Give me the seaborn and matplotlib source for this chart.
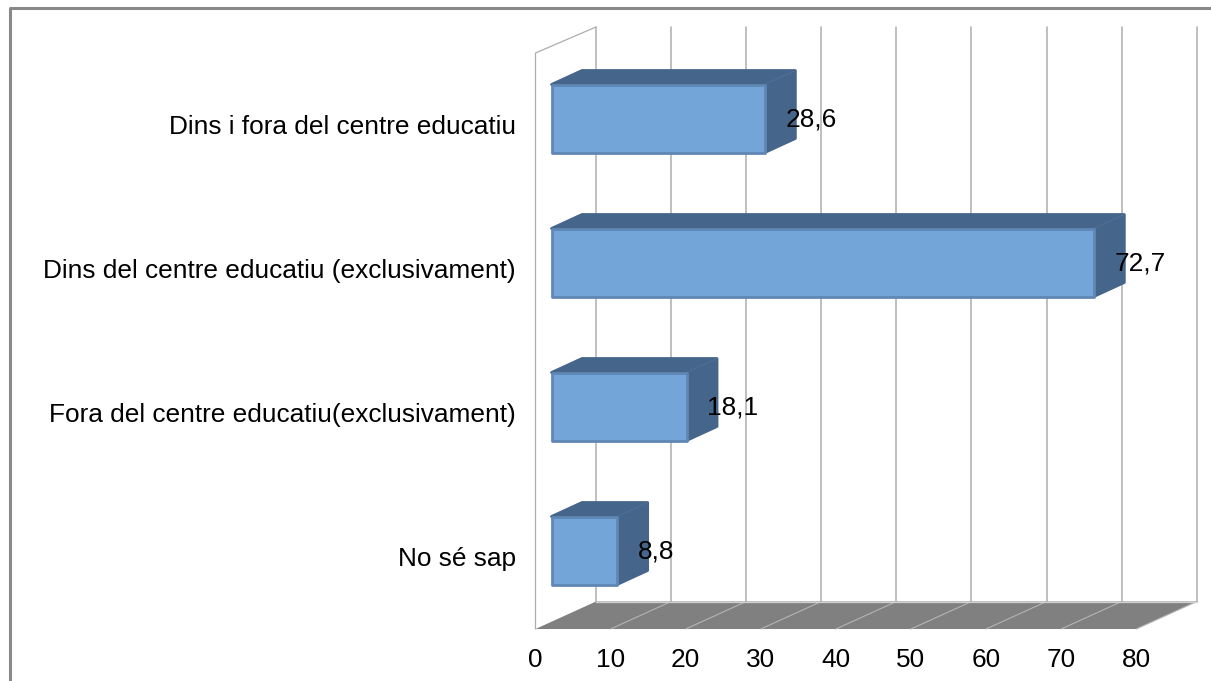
import pandas as pd
import seaborn as sns
from matplotlib import pyplot as plt
from matplotlib.lines import Line2D
from matplotlib.patches import Polygon
from matplotlib.transforms import ScaledTranslation

categories = ['Dins i fora del centre educatiu', 'Dins del centre educatiu (exclusivament)',
              'Fora del centre educatiu(exclusivament)', 'No sé sap']
values = [28.6, 72.7, 18.1, 8.8]
value_labels = ['28,6', '72,7', '18,1', '8,8']
axis_ticks = [0, 10, 20, 30, 40, 50, 60, 70, 80]

W, H = 1211, 681
PX_X = 7.46   # pixels per unit on x
PX_Y = 144.0  # pixels per category

sns.set_theme(style='white')
plt.rcParams['font.family'] = ['Liberation Sans', 'DejaVu Sans']

df = pd.DataFrame({'cat': categories, 'val': values})

fig = plt.figure(figsize=(W / 100, H / 100), dpi=100)
ax = fig.add_axes([535.5 / W, (H - 629) / H, (1197 - 535.5) / W, (629 - 27) / H])

sns.barplot(data=df, y='cat', x='val', orient='h', color='#74A5D9', saturation=1,
            width=68 / PX_Y, edgecolor='#5F87B5', linewidth=2.0, zorder=5, ax=ax)

ax.set_xlim(-16 / PX_X, (1197 - 551.5) / PX_X)
ax.set_ylim((629 - 118.5) / PX_Y, (27 - 118.5) / PX_Y)

# offsets in data units
wall_dx = 60.5 / PX_X   # front axis -> back wall
wall_dy = 27.5 / PX_Y
bar_dx = 30.5 / PX_X    # depth of the bars
bar_dy = 14.0 / PX_Y
x0 = -16 / PX_X         # front axis zero, the bars start a bit behind it
tick_step = 75.1 / PX_X / 10
y_floor, y_top = ax.get_ylim()
y_back = y_floor - wall_dy

# floor and back wall
grid_c = '#ADADAD'
floor = [(x0, y_floor), (x0 + 80 * tick_step, y_floor),
         (x0 + 80 * tick_step + wall_dx, y_back), (x0 + wall_dx, y_back)]
ax.add_patch(Polygon(floor, closed=True, fc='#808080', ec='none', zorder=1, clip_on=False))
for t in axis_ticks:
    xb = x0 + t * tick_step + wall_dx
    ax.plot([xb, xb], [y_top, y_back], color=grid_c, lw=1.1, zorder=2, clip_on=False)
    if t > 0:
        ax.plot([xb - wall_dx, xb], [y_floor, y_back], color='#B4B4B4', lw=0.8, zorder=2, clip_on=False)
ax.plot([x0 + wall_dx, x0 + 80 * tick_step + wall_dx], [y_back, y_back], color='#D0D0D0', lw=0.9, zorder=2, clip_on=False)

# left wall
ax.plot([x0, x0, x0 + wall_dx], [y_floor, y_top + wall_dy - 1.5 / PX_Y, y_top], color=grid_c, lw=0.9,
        zorder=2, clip_on=False)

# top and side of the bars
side_c = '#46658A'
for bar in list(ax.patches):
    if bar.get_zorder() != 5:
        continue
    bar.set_joinstyle('round')
    xe = bar.get_x() + bar.get_width()
    yt = bar.get_y()
    yb = yt + bar.get_height()
    xs = bar.get_x()
    shape = [(xs, yt), (xs + bar_dx, yt - bar_dy), (xe + bar_dx, yt - bar_dy),
             (xe + bar_dx, yb - bar_dy), (xe, yb)]
    ax.add_patch(Polygon(shape, closed=True, fc=side_c, ec=side_c, lw=2.0, joinstyle='round', zorder=4))
    ax.plot([xe, xe + bar_dx], [yt, yt - bar_dy], color='#4E6F97', lw=0.8, zorder=4.5)

# value labels
for i, (v, lab) in enumerate(zip(values, value_labels)):
    ax.text(v + 20.5 / PX_X, i + 1.5 / PX_Y, lab, ha='left', va='center', fontsize=18.9, color='black',
            zorder=6, clip_on=False)

# axis text
ax.set_xticks([x0 + t * tick_step for t in axis_ticks])
ax.set_xticklabels([str(t) for t in axis_ticks], fontsize=18.9, color='black')
ax.tick_params(axis='x', length=0, pad=14)
ax.set_yticks(range(len(categories)))
ax.set_yticklabels(categories, fontsize=18.9, color='black')
ax.tick_params(axis='y', length=0, pad=14)
shift = ScaledTranslation(0, -6 / 100, fig.dpi_scale_trans)
for lab in ax.get_yticklabels():
    lab.set_transform(lab.get_transform() + shift)
ax.set_xlabel('')
ax.set_ylabel('')
sns.despine(ax=ax, left=True, bottom=True)
ax.patch.set_alpha(0)

# outer frame
frame_c = '#898989'
fig.add_artist(Line2D([10 / W, 10 / W, 1], [0, 1 - 8 / H, 1 - 8 / H], color=frame_c, lw=2.2,
                      transform=fig.transFigure))

fig.savefig('out.png', dpi=100, facecolor='white')
